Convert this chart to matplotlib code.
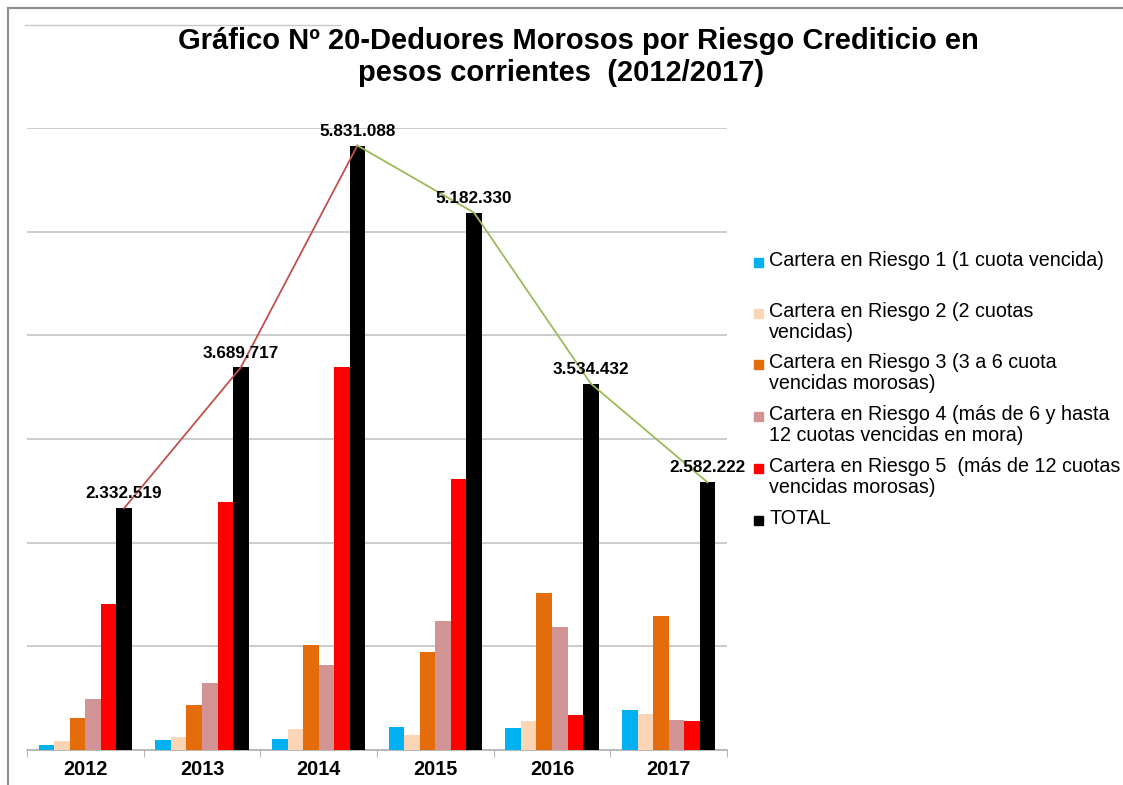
import matplotlib.pyplot as plt
import numpy as np
from matplotlib.lines import Line2D
from matplotlib.patches import Rectangle

plt.rcParams['font.family'] = ['Liberation Sans', 'DejaVu Sans']

# datos (pesos corrientes)
anios = ['2012', '2013', '2014', '2015', '2016', '2017']
riesgo1 = [48000, 93000, 106000, 218000, 208000, 385000]
riesgo2 = [87000, 122000, 200000, 144000, 276000, 343000]
riesgo3 = [305000, 430000, 1016000, 945000, 1516000, 1288000]
riesgo4 = [490000, 650000, 817000, 1240000, 1186000, 285000]
riesgo5 = [1410000, 2390000, 3690000, 2615000, 337000, 276000]
total = [2332519, 3689717, 5831088, 5182330, 3534432, 2582222]

series = [riesgo1, riesgo2, riesgo3, riesgo4, riesgo5, total]
nombres = ['Cartera en Riesgo 1 (1 cuota vencida)',
           'Cartera en Riesgo 2 (2 cuotas\nvencidas)',
           'Cartera en Riesgo 3 (3 a 6 cuota\nvencidas morosas)',
           'Cartera en Riesgo 4 (más de 6 y hasta\n12 cuotas vencidas en mora)',
           'Cartera en Riesgo 5  (más de 12 cuotas\nvencidas morosas)',
           'TOTAL']
colores = ['#00B0F0', '#FBD5B5', '#E46C0A', '#D19393', '#FF0000', '#000000']

fig = plt.figure(figsize=(11.23, 7.85), dpi=100)
ax = fig.add_axes([27/1123, 1 - 750/785, 700/1123, 622/785])

x = np.arange(len(anios))
w = 0.133
for k, (vals, col) in enumerate(zip(series, colores)):
    ax.bar(x + (k - 2.5) * w, vals, width=w, color=col, zorder=3)

xt = x + 2.5 * w
# linea de tendencia sobre el total
ax.plot(xt[:3], total[:3], color='#C0504D', lw=1.3, zorder=4)
ax.plot(xt[2:], total[2:], color='#9BBB59', lw=1.3, zorder=4)

for xi, v in zip(xt, total):
    etiqueta = f'{v:,}'.replace(',', '.')
    ax.annotate(etiqueta, (xi, v), xytext=(0, 5), textcoords='offset points',
                ha='center', va='bottom', fontsize=12.3, fontweight='bold', zorder=5)

ax.set_xlim(-0.5, 5.5)
ax.set_ylim(0, 6000000)
ax.set_yticks(np.arange(1000000, 6000001, 1000000))
ax.yaxis.grid(True, color='#BFBFBF', lw=1.1, zorder=0)
ax.tick_params(axis='y', left=False, labelleft=False)
ax.set_xticks(x)
ax.set_xticklabels(anios, fontsize=14.3, fontweight='bold')
ax.tick_params(axis='x', length=0, pad=7)
ax.set_xticks(np.arange(-0.5, 6, 1), minor=True)
ax.tick_params(axis='x', which='minor', length=5, color='#A6A6A6')
for s in ['top', 'right', 'left']:
    ax.spines[s].set_visible(False)
ax.spines['bottom'].set_color('#A6A6A6')
ax.spines['bottom'].set_linewidth(1.1)

# titulo
fig.text(578/1123, 1 - 41/785, 'Gráfico Nº 20-Deduores Morosos por Riesgo Crediticio en',
         ha='center', va='center', fontsize=21, fontweight='bold')
fig.text(561/1123, 1 - 73/785, 'pesos corrientes  (2012/2017)',
         ha='center', va='center', fontsize=21, fontweight='bold')

# leyenda
ys = [262, 313, 364, 416, 468, 520]
for yy, nom, col in zip(ys, nombres, colores):
    fig.patches.append(Rectangle((754/1123, 1 - (yy + 4.5)/785), 9/1123, 9/785,
                                 transform=fig.transFigure, color=col))
    fig.text(769/1123, 1 - (yy - 11)/785, nom, ha='left', va='top',
             fontsize=14.2, linespacing=1.12)

# marco
fig.add_artist(Line2D([8/1123, 1], [1 - 8/785, 1 - 8/785], color='#8C8C8C', lw=1.5))
fig.add_artist(Line2D([8/1123, 8/1123], [0, 1 - 8/785], color='#8C8C8C', lw=1.5))
fig.add_artist(Line2D([25/1123, 340/1123], [1 - 25/785, 1 - 25/785], color='#C8C8C8', lw=1))

fig.savefig('out.png', dpi=100)
